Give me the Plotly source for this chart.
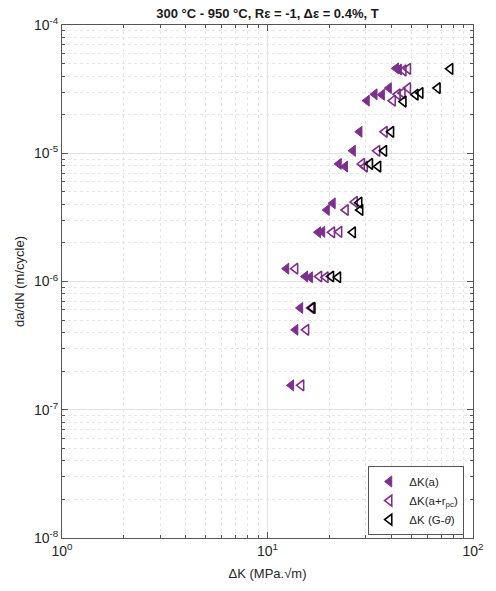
import plotly.graph_objects as go

# ΔK(a) – filled purple
k_a = [13.04, 13.68, 14.44, 12.35, 15.26, 16.11, 17.64, 18.49, 19.46, 20.78,
       22.25, 23.86, 26.04, 28.05, 30.44, 33.22, 36.06, 38.99, 42.23, 43.64]
dadn_a = [1.55e-7, 4.20e-7, 6.22e-7, 1.26e-6, 1.094e-6, 1.079e-6, 2.42e-6, 2.44e-6, 3.61e-6, 4.07e-6,
          8.26e-6, 7.88e-6, 1.045e-5, 1.47e-5, 2.57e-5, 2.88e-5, 2.86e-5, 3.22e-5, 4.59e-5, 4.50e-5]

# ΔK(a+rpc) – open purple
k_arpc = [14.60, 15.43, 16.34, 13.65, 17.84, 19.18, 20.62, 22.35, 24.02, 26.61,
          28.82, 29.78, 34.21, 37.17, 40.74, 43.02, 45.42, 48.30, 45.92, 48.30]
dadn_arpc = [1.55e-7, 4.20e-7, 6.22e-7, 1.26e-6, 1.094e-6, 1.079e-6, 2.42e-6, 2.44e-6, 3.61e-6, 4.17e-6,
             8.26e-6, 7.88e-6, 1.045e-5, 1.47e-5, 2.57e-5, 2.88e-5, 2.95e-5, 3.22e-5, 4.42e-5, 4.55e-5]

# ΔK (G-θ) – open black
k_g = [16.56, 20.40, 22.06, 26.04, 28.29, 27.99, 31.56, 34.58, 36.94, 39.98,
       45.92, 52.54, 55.48, 67.30, 77.55]
dadn_g = [6.22e-7, 1.094e-6, 1.079e-6, 2.42e-6, 3.61e-6, 4.12e-6, 8.26e-6, 7.88e-6, 1.045e-5, 1.47e-5,
          2.53e-5, 2.86e-5, 2.95e-5, 3.22e-5, 4.55e-5]

x_tickvals = [1, 10, 100]
x_ticktext = ['10<sup>0</sup>', '10<sup>1</sup>', '10<sup>2</sup>']
y_tickvals = [1e-8, 1e-7, 1e-6, 1e-5, 1e-4]
y_ticktext = ['10<sup>-8</sup>', '10<sup>-7</sup>', '10<sup>-6</sup>', '10<sup>-5</sup>', '10<sup>-4</sup>']

purple = '#7E2F8E'
FONT = 'Liberation Sans, Arial, sans-serif'

fig = go.Figure()
fig.add_trace(go.Scatter(x=k_a, y=dadn_a, mode='markers', name='ΔK(a)',
                         marker=dict(symbol='triangle-left', size=9.5, color=purple,
                                     line=dict(width=1, color=purple))))
fig.add_trace(go.Scatter(x=k_arpc, y=dadn_arpc, mode='markers', name='ΔK(a+r<sub>pc</sub>)',
                         marker=dict(symbol='triangle-left-open', size=9.5, color=purple,
                                     line=dict(width=1.6, color=purple))))
fig.add_trace(go.Scatter(x=k_g, y=dadn_g, mode='markers', name='ΔK (G-<i>θ</i>)',
                         marker=dict(symbol='triangle-left-open', size=9.5, color='black',
                                     line=dict(width=1.6, color='black'))))

axis_common = dict(
    type='log', showline=True, linecolor='#555555', linewidth=1, mirror='allticks',
    ticks='inside', ticklen=6, tickcolor='#555555', tickwidth=1,
    showgrid=True, gridcolor='#e3e3e3', gridwidth=1, zeroline=False,
    tickfont=dict(family=FONT, size=14, color='#262626'),
    minor=dict(ticks='inside', ticklen=3, tickcolor='#555555', showgrid=True,
               gridcolor='#e6e6e6', griddash='dot', dtick='D1'),
)

fig.update_layout(
    width=496, height=591,
    margin=dict(l=62, r=13, t=25, b=51),
    paper_bgcolor='white', plot_bgcolor='white',
    font=dict(family=FONT, size=12, color='#262626'),
    title=dict(text='<b>300 °C - 950 °C, Rε = -1, Δε = 0.4%, T</b>', x=0.5, xref='paper',
               y=1 - 13 / 591, yref='container', yanchor='middle', xanchor='center',
               font=dict(family=FONT, size=13, color='#1a1a1a')),
    xaxis=dict(axis_common, range=[0, 2], tickvals=x_tickvals, ticktext=x_ticktext,
               title=dict(text='ΔK (MPa.√m)', font=dict(family=FONT, size=13), standoff=11)),
    yaxis=dict(axis_common, range=[-8, -4], tickvals=y_tickvals, ticktext=y_ticktext,
               title=dict(text='da/dN (m/cycle)', font=dict(family=FONT, size=13), standoff=6)),
    legend=dict(x=0.979, y=0.073, xanchor='right', yanchor='middle',
                bordercolor='#555555', borderwidth=1, bgcolor='white',
                font=dict(family=FONT, size=11.5, color='#262626'),
                tracegroupgap=0),
    showlegend=True,
)

fig.write_html('out.html', config={'displayModeBar': False},
               post_script="document.body.style.margin='0';document.body.style.overflow='hidden';")
